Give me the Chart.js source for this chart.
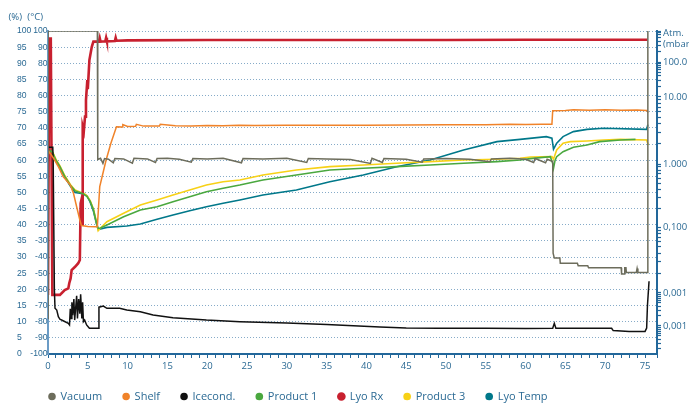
<!DOCTYPE html>
<html><head><meta charset="utf-8">
<script src="https://cdn.jsdelivr.net/npm/chart.js@4.4.1/dist/chart.umd.min.js"></script>
<style>html,body{margin:0;padding:0;background:#fff}#wrap{width:689px;height:403px;position:relative}</style>
</head><body><div id="wrap"><canvas id="c"></canvas></div>
<script>
// ---------- data (time in h) ----------
const seriesNames = ['Vacuum','Shelf','Icecond.','Product 1','Lyo Rx','Product 3','Lyo Temp'];

// Vacuum (% of left scale)
const vacuumT = [0,0.02,6.2,6.25,6.6,6.9,7.1,7.6,8.2,8.4,9.5,10.6,10.8,12.5,13.5,13.7,15,16.5,18,18.2,20,22,24.3,24.5,27,30,32.5,32.7,35,38,40.5,40.7,42,42.2,45,47,47.2,50,53,55.5,55.7,58,60,61,61.2,62.5,62.7,63.4,63.45,63.6,64.3,64.35,66.5,66.6,67.8,67.9,72.0,72.05,72.4,72.45,72.6,72.65,73.9,74.0,74.1,75.3,75.35];
const vacuumV = [11,100,100,60.2,60.6,59.0,60.5,60.3,59.2,60.5,60.4,59.1,60.6,60.4,59.3,60.5,60.6,60.3,59.4,60.5,60.4,60.6,59.2,60.5,60.4,60.6,59.3,60.5,60.4,60.2,59.0,60.6,59.3,60.5,60.3,59.4,60.4,60.5,60.3,59.5,60.4,60.6,60.3,59.3,60.5,59.2,60.3,59.6,31.2,29.7,29.7,28.1,28.1,27.3,27.3,26.7,26.7,24.8,24.8,26.7,26.7,25.2,25.2,26.5,25.2,25.2,100];

// Shelf (°C)
const shelfT = [0,0.7,1.3,1.9,2.8,3.2,3.6,4.0,4.2,5.0,5.9,6.2,6.5,6.9,7.3,7.9,8.6,9.3,9.4,10,11,11.1,12,14,14.1,16,18,20,22,24,26,30,35,40,45,50,55,58,60,62,63.3,63.4,65,66,68,70,72,74,75.2,75.4];
const shelfV = [26,21.2,16,9.8,4.6,-0.5,-8.8,-17,-20.5,-21,-21.2,-21.2,3.6,11.9,20.1,30.5,40.7,40.6,42.0,40.9,41.0,42.2,41.1,41.2,42.3,41.3,41.2,41.5,41.4,41.6,41.5,41.6,41.7,41.6,41.8,41.9,42.0,42.2,42.1,42.3,42.2,50.6,50.8,51.3,50.9,51.2,50.9,51.1,50.8,49.5];

// Icecond. (°C)
const iceT = [0,0.6,0.65,0.8,0.88,1.1,1.3,1.5,1.9,2.55,2.7,2.8,2.9,3.0,3.1,3.25,3.35,3.5,3.6,3.7,3.85,4.0,4.1,4.25,4.35,4.45,4.6,4.85,5.2,6.3,6.4,6.95,7.4,9,9.9,11.6,13.2,15.7,19.9,24.1,30,35,41.7,45,49,55,60,63.4,63.6,63.8,70.8,71,73,75,75.2,75.3,75.5];
const iceV = [28,28,20,-60,-71.7,-72.8,-76.9,-78.5,-79.4,-81,-82,-72,-78,-68,-76,-66,-79,-70,-64,-78,-66,-75,-63,-78,-68,-80,-79,-82,-84.1,-84.1,-71,-70.3,-71.7,-71.7,-72.8,-73.8,-75.9,-77.5,-79,-80,-80.8,-81.8,-83.3,-83.9,-84.1,-84,-84.2,-84,-81,-84.1,-84.1,-85.5,-86,-86,-84,-70,-55];

// Product 1 (°C)
const p1T = [0,0.3,0.6,1.0,1.5,2.1,2.8,3.4,4.0,4.5,4.9,5.3,5.7,6.1,6.3,6.6,7.4,9.5,11.6,13.7,15.7,17.8,19.9,22,24.1,27,31.2,35.4,39.6,43.8,48,52.2,56.4,59.3,60.6,63.1,63.4,63.5,63.7,63.9,64.7,66,67.7,69.3,71.9,73.8];
const p1V = [24,26,24.5,20,16,10,4.5,1,0,-1,-2.5,-5.5,-10.5,-19,-22.2,-22,-20.1,-15,-10.8,-8.8,-5.7,-2.6,0.5,2.6,4.6,7.7,10.8,13.9,15,16,17,18.1,19.1,20.1,21,22.2,18,15,20,22.2,25.3,28,29.4,31.5,32.5,32.9];

// Lyo Rx (%)
const rxT = [0,0.15,0.35,0.55,1.5,2.1,2.55,2.67,2.84,2.97,3.4,3.8,4.0,4.1,4.2,4.3,4.36,4.5,4.65,4.77,4.94,5.0,5.2,5.5,5.7,6.4,6.5,6.6,7.2,7.3,7.4,8.4,8.5,8.6,10,20,30,40,50,60,70,75.3];
const rxV = [18.3,97.7,97.7,18.3,18.3,19.8,20.3,21.9,23.4,26.0,27.0,28.1,29.1,46.6,47.7,40,70.4,69,73.5,78.6,84.8,82,91,95.1,96.7,96.7,97.8,96.7,96.8,97.9,96.8,96.9,97.9,97,97.1,97.2,97.2,97.2,97.2,97.3,97.3,97.3];

// Product 3 (°C)
const p3T = [0,0.3,0.6,1.0,1.5,2.1,2.8,3.4,4.0,4.5,4.9,5.3,5.7,6.1,6.3,6.6,7.4,9.5,11.6,13.7,15.7,17.8,19.9,22,24.1,27,31.2,35.4,39.6,43.8,48,52.2,56.4,59.3,60.6,63.3,63.5,63.9,64.7,65.6,67.7,69.8,71.9,75.2,75.4];
const p3V = [23,25.5,24.8,20.5,16.5,10.5,5,1.5,0.3,-0.5,-2,-5,-10,-18.5,-23.7,-22,-18.1,-12.9,-7.7,-4.6,-1.5,1.5,4.6,6.7,7.7,10.8,13.9,16,17,18.1,19.1,20.1,20.6,21.2,22,22.2,20.6,26.3,30.5,31.5,31.9,32.5,32.9,32.5,29.4];

// Lyo Temp (°C)
const ltT = [0,0.3,0.6,1.0,1.5,2.1,2.8,3.4,4.0,4.5,4.9,5.3,5.7,6.1,6.3,7.4,9.9,11.6,13.7,15.7,17.8,19.9,22,24.1,27,31.2,35.4,39.6,43.8,48,52.2,56.4,59.3,62.6,63.3,63.5,63.9,64.7,66,67.7,69.8,75.2,75.35];
const ltV = [19,25,24,19.5,15.5,9.5,4,0,-0.5,-1,-2,-6,-11.5,-19.5,-23,-21.6,-20.7,-19.5,-16.6,-13.9,-11.3,-8.8,-6.7,-4.6,-1.5,1.5,6.7,10.8,16,20.1,26.3,31.5,32.9,34.6,33.6,26.8,30.5,34.6,37.7,39.1,39.8,39.1,42];

// right (pressure) axis: label positions on the 0-100 % scale and their labels
const rightMajorPos = [90.4, 79.6, 58.8, 39.3, 18.9, 8.7];
const rightMajorLabels = ['100.0', '10.00', '1.000', '0,100', '0,001', '0,001'];

// ---------- styling ----------
const TXT = '#2b6a94';
const AXIS = '#22679a';
const AXIS_L = '#6b9cc6';
const GRID = '#86abc8';
const FONT = '"Open Sans", sans-serif';
const TICKFONT = '"Liberation Sans", Arial, sans-serif';
Chart.defaults.font.family = FONT;
Chart.defaults.color = TXT;

function pts(t, v) { return t.map((x, i) => ({ x: x, y: v[i] })); }

// minor ticks of the pressure axis (log subdivisions between decade labels)
const decadeBounds = [[rightMajorPos[0] + (rightMajorPos[0] - rightMajorPos[1]), rightMajorPos[0]]];
for (let i = 0; i < rightMajorPos.length - 1; i++) decadeBounds.push([rightMajorPos[i], rightMajorPos[i + 1]]);
const lastD = rightMajorPos[rightMajorPos.length - 2] - rightMajorPos[rightMajorPos.length - 1];
decadeBounds.push([rightMajorPos[rightMajorPos.length - 1], rightMajorPos[rightMajorPos.length - 1] - lastD]);
const rightTicks = rightMajorPos.slice();
decadeBounds.forEach(([up, lo]) => {
  for (let k = 2; k <= 9; k++) {
    const p = lo + (up - lo) * Math.log10(k);
    if (p >= 0 && p <= 100) rightTicks.push(p);
  }
});
rightTicks.push(100);
rightTicks.sort((a, b) => a - b);

const colors = ['#6d6d5c', '#f0832a', '#111111', '#4aa83f', '#c8202f', '#f7d117', '#00788a'];
const widths = [1.5, 1.5, 1.5, 1.6, 2.6, 1.6, 1.6];
const sets = [
  pts(vacuumT, vacuumV), pts(shelfT, shelfV), pts(iceT, iceV),
  pts(p1T, p1V), pts(rxT, rxV), pts(p3T, p3V), pts(ltT, ltV)
];
const axisOf = ['yP', 'yC', 'yC', 'yC', 'yP', 'yC', 'yC'];

const extraPlugin = {
  id: 'extra',
  afterLayout(chart) {
    const lg = chart.legend;
    if (lg) {
      lg.left = chart.chartArea.left - 20;
      lg.top = chart.chartArea.bottom + 16;
    }
    // let the two left label columns share their space (avoid label clipping)
    const yP = chart.scales.yP, yC = chart.scales.yC;
    if (yP && yC) {
      const l = yP.left, r = yC.right;
      yP.right = r;
      yC.left = l;
    }
  },
  afterDraw(chart) {
    const { ctx, scales, chartArea } = chart;
    ctx.save();
    ctx.fillStyle = TXT;
    ctx.font = '9.5px ' + FONT;
    ctx.textBaseline = 'middle';
    ctx.textAlign = 'right';
    ctx.fillText('(%)', scales.yP.left + 5, chartArea.top - 14);
    ctx.fillText('(°C)', scales.yC.right - 5, chartArea.top - 14);
    ctx.textAlign = 'left';
    ctx.fillText('Atm.', scales.y2.left + 6, chartArea.top + 2);
    ctx.fillText('(mbar)', scales.y2.left + 6, chartArea.top + 13);
    ctx.restore();
  }
};

new Chart(document.getElementById('c'), {
  type: 'line',
  data: {
    datasets: seriesNames.map((n, i) => ({
      label: n,
      data: sets[i],
      yAxisID: axisOf[i],
      borderColor: colors[i],
      backgroundColor: colors[i],
      borderWidth: widths[i],
      pointRadius: 0,
      tension: 0,
      fill: false
    }))
  },
  options: {
    responsive: true,
    maintainAspectRatio: false,
    animation: false,
    devicePixelRatio: 1,
    layout: { padding: { left: 17, right: 0, top: 31, bottom: 0 } },
    plugins: {
      legend: {
        position: 'bottom',
        align: 'start',
        maxHeight: 29,
        labels: {
          usePointStyle: true,
          pointStyle: 'circle',
          boxWidth: 6,
          boxHeight: 4.3,
          padding: 21,
          color: TXT,
          font: { size: 11, family: FONT }
        }
      },
      tooltip: { enabled: false }
    },
    scales: {
      x: {
        type: 'linear',
        min: 0, max: 76.5,
        afterFit: s => { s.height = 20; },
        ticks: {
          stepSize: 1, autoSkip: false, maxRotation: 0, padding: 3,
          color: TXT, font: { size: 9.5 },
          callback: v => (Math.abs(v % 5) < 1e-9 ? String(v) : '')
        },
        grid: { drawOnChartArea: false, drawTicks: true, tickLength: 4, tickColor: AXIS, tickWidth: 1 },
        border: { display: true, color: AXIS, width: 2 }
      },
      yC: {
        position: 'left',
        min: -100, max: 100,
        weight: 0,
        afterFit: s => { s.width = 23; },
        ticks: { stepSize: 10, padding: 0.5, color: TXT, font: { size: 8.6, family: TICKFONT }, autoSkip: false },
        grid: { drawOnChartArea: true, color: GRID, lineWidth: 1, drawTicks: false },
        border: { display: true, color: AXIS_L, width: 2, dash: [1, 2] }
      },
      yP: {
        position: 'left',
        min: 0, max: 100,
        weight: 1,
        afterFit: s => { s.width = 8; },
        ticks: { stepSize: 5, crossAlign: 'far', padding: 0, color: TXT, font: { size: 8.6, family: TICKFONT }, autoSkip: false },
        grid: { display: false },
        border: { display: false }
      },
      y2: {
        position: 'right',
        min: 0, max: 100,
        afterFit: s => { s.width = 32; },
        afterBuildTicks: s => { s.ticks = rightTicks.map(v => ({ value: v })); },
        ticks: {
          autoSkip: false, padding: 2, color: TXT, font: { size: 9.5 },
          callback: v => {
            const i = rightMajorPos.findIndex(p => Math.abs(p - v) < 1e-6);
            return i >= 0 ? rightMajorLabels[i] : '';
          }
        },
        grid: { drawOnChartArea: false, drawTicks: true, tickLength: 4, tickColor: AXIS, tickWidth: 1.2 },
        border: { display: true, color: AXIS, width: 2 }
      }
    }
  },
  plugins: [extraPlugin]
});
</script>
</body></html>
